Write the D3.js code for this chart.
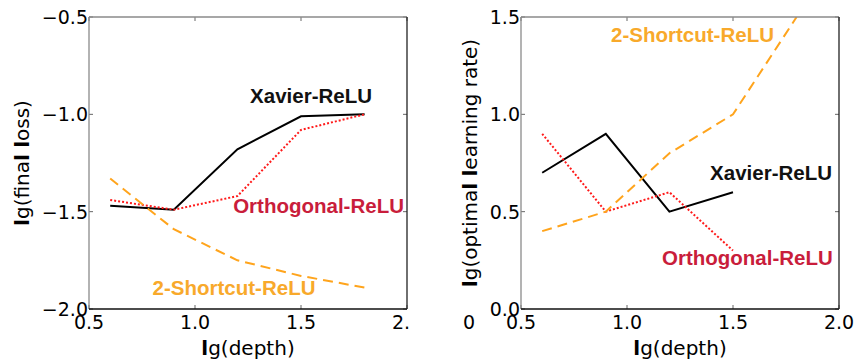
<!DOCTYPE html>
<html>
<head>
<meta charset="utf-8">
<script src="https://cdn.jsdelivr.net/npm/d3@7"></script>
<style>
  body { margin: 0; background: #fff; }
  svg { display: block; }
</style>
</head>
<body>
<div id="chart"></div>
<script>
// data
var depth = [0.6, 0.9, 1.2, 1.5, 1.8];
var lossXavier = [-1.47, -1.49, -1.18, -1.01, -1.0];
var lossOrtho = [-1.44, -1.49, -1.42, -1.08, -1.0];
var lossShortcut = [-1.33, -1.59, -1.75, -1.83, -1.89];
var lrXavier = [0.7, 0.9, 0.5, 0.6];
var lrOrtho = [0.9, 0.5, 0.6, 0.3];
var lrShortcut = [0.4, 0.5, 0.8, 1.0, 1.5];
var xTicks = [0.5, 1.0, 1.5, 2.0];
var lossTicks = [-2.0, -1.5, -1.0, -0.5];
var lrTicks = [0.0, 0.5, 1.0, 1.5];
var seriesNames = ["Xavier-ReLU", "Orthogonal-ReLU", "2-Shortcut-ReLU"];

var styles = {
  "Xavier-ReLU": { line: "#000", dash: null, text: "#111" },
  "Orthogonal-ReLU": { line: "#ff1a1a", dash: "2,2", text: "#c91d3b" },
  "2-Shortcut-ReLU": { line: "#ffa41c", dash: "10,6", text: "#f8a92b" }
};

var svg = d3.select("#chart").append("svg")
  .attr("width", 859)
  .attr("height", 360);

var fmt = d3.format(".1f");

function drawPanel(p) {
  var g = svg.append("g");
  if (p.clipRight) {
    svg.append("clipPath").attr("id", p.id + "-clip")
      .append("rect").attr("x", 0).attr("y", 0).attr("width", p.clipRight).attr("height", 360);
    g.attr("clip-path", "url(#" + p.id + "-clip)");
  }
  var x = d3.scaleLinear().domain([0.5, 2.0]).range([p.left, p.right]);
  var y = d3.scaleLinear().domain(p.yDomain).range([309, 17]);

  svg.append("clipPath").attr("id", p.id + "-plot")
    .append("rect").attr("x", p.left).attr("y", 17).attr("width", p.right - p.left).attr("height", 292);

  // lines
  var line = d3.line().x(function(d) { return x(d[0]); }).y(function(d) { return y(d[1]); });
  p.series.forEach(function(s, i) {
    var st = styles[seriesNames[i]];
    var pts = s.map(function(v, j) { return [depth[j], v]; });
    g.append("path")
      .attr("clip-path", "url(#" + p.id + "-plot)")
      .attr("d", line(pts))
      .attr("fill", "none")
      .attr("stroke", st.line)
      .attr("stroke-width", 2)
      .attr("stroke-dasharray", st.dash);
  });

  // inward ticks on all sides
  xTicks.forEach(function(t) {
    g.append("line").attr("x1", x(t)).attr("x2", x(t)).attr("y1", 309).attr("y2", 305).attr("stroke", "#666");
    g.append("line").attr("x1", x(t)).attr("x2", x(t)).attr("y1", 17).attr("y2", 21).attr("stroke", "#666");
  });
  p.yTicks.forEach(function(t) {
    g.append("line").attr("x1", p.left).attr("x2", p.left + 4).attr("y1", y(t)).attr("y2", y(t)).attr("stroke", "#666");
    g.append("line").attr("x1", p.right).attr("x2", p.right - 4).attr("y1", y(t)).attr("y2", y(t)).attr("stroke", "#666");
  });

  // frame: light top/left, dark bottom/right
  g.append("line").attr("x1", p.left).attr("x2", p.right).attr("y1", 17).attr("y2", 17).attr("stroke", "#8a8a8a").attr("stroke-width", 1.3);
  g.append("line").attr("x1", p.left).attr("x2", p.left).attr("y1", 17).attr("y2", 309).attr("stroke", "#8a8a8a").attr("stroke-width", 1.3);
  g.append("line").attr("x1", p.left).attr("x2", p.right).attr("y1", 309).attr("y2", 309).attr("stroke", "#111").attr("stroke-width", 1.3);
  g.append("line").attr("x1", p.right).attr("x2", p.right).attr("y1", 17).attr("y2", 309).attr("stroke", "#222").attr("stroke-width", 1.3);

  // tick labels
  g.selectAll(".xt").data(xTicks).enter().append("text")
    .attr("x", function(d) { return x(d); })
    .attr("y", 329)
    .attr("text-anchor", "middle")
    .attr("font-family", "DejaVu Sans")
    .attr("font-size", 19)
    .text(function(d) { return fmt(d); });
  g.selectAll(".yt").data(p.yTicks).enter().append("text")
    .attr("x", p.left - 1)
    .attr("y", function(d) { return y(d) + 7; })
    .attr("text-anchor", "end")
    .attr("font-family", "DejaVu Sans")
    .attr("font-size", 19)
    .text(function(d) { return fmt(d); });

  // axis titles, every "l" comes out bold
  function boldL(sel, str) {
    str.split(/(l)/).forEach(function(part) {
      if (!part) return;
      sel.append("tspan").attr("font-weight", part === "l" ? "bold" : "normal").text(part);
    });
  }
  var xl = g.append("text")
    .attr("x", (p.left + p.right) / 2)
    .attr("y", 355)
    .attr("text-anchor", "middle")
    .attr("font-family", "DejaVu Sans")
    .attr("font-size", 20);
  boldL(xl, "lg(depth)");
  var yl = g.append("text")
    .attr("transform", "translate(" + p.yLabelX + ",163) rotate(-90)")
    .attr("text-anchor", "middle")
    .attr("font-family", "DejaVu Sans")
    .attr("font-size", 20);
  boldL(yl, p.yLabel);

  // series annotations
  p.notes.forEach(function(n, i) {
    g.append("text")
      .attr("x", x(n[0]))
      .attr("y", y(n[1]))
      .attr("font-family", "Liberation Sans, Arial, sans-serif")
      .attr("font-weight", "bold")
      .attr("font-size", 20.5)
      .attr("fill", styles[seriesNames[i]].text)
      .text(seriesNames[i]);
  });
  return g;
}

drawPanel({
  id: "loss", left: 89, right: 407, clipRight: 410,
  yDomain: [-2.0, -0.5], yTicks: lossTicks,
  yLabel: "lg(final loss)", yLabelX: 29,
  series: [lossXavier, lossOrtho, lossShortcut],
  notes: [[1.26, -0.94], [1.18, -1.505], [0.80, -1.93]]
});

var right = drawPanel({
  id: "lr", left: 521, right: 839,
  yDomain: [0.0, 1.5], yTicks: lrTicks,
  yLabel: "lg(optimal learning rate)", yLabelX: 477,
  series: [lrXavier, lrOrtho, lrShortcut],
  notes: [[1.392, 0.663], [1.165, 0.226], [0.925, 1.372]]
});

// leftover "0" from the cropped neighbour figure
right.append("text")
  .attr("x", 469).attr("y", 329)
  .attr("text-anchor", "middle")
  .attr("font-family", "DejaVu Sans")
  .attr("font-size", 19)
  .text("0");
</script>
</body>
</html>
